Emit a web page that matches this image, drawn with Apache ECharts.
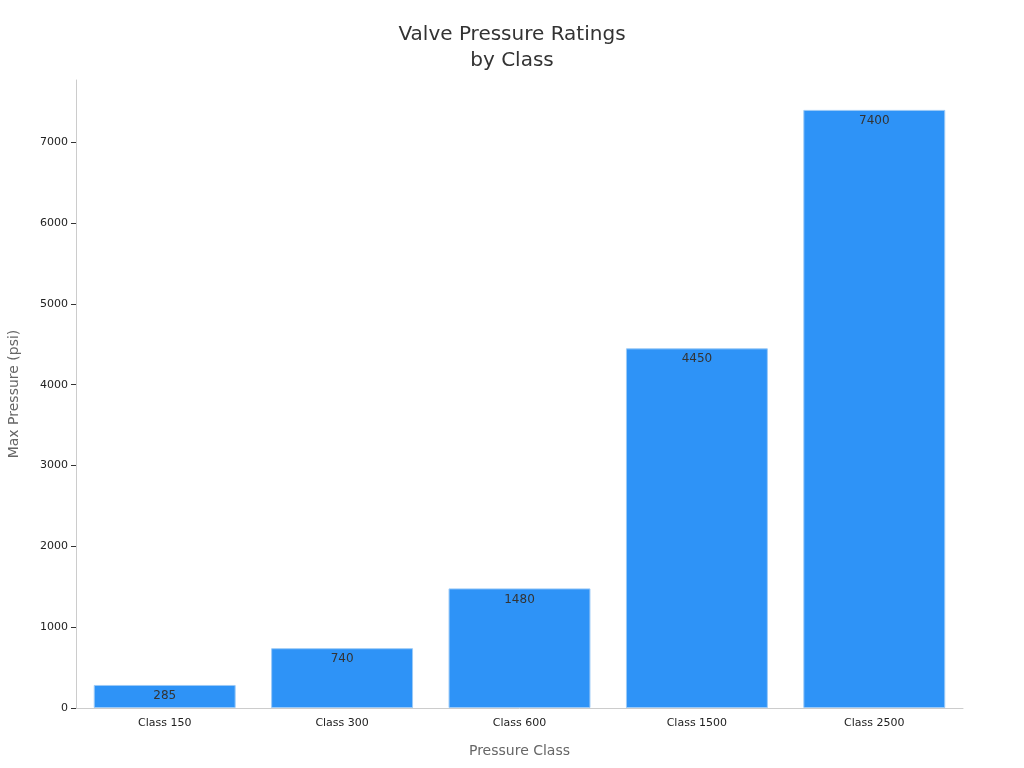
<!DOCTYPE html>
<html>
<head>
<meta charset="utf-8">
<script src="https://cdn.jsdelivr.net/npm/echarts@6/dist/echarts.min.js"></script>
<style>html,body{margin:0;padding:0;background:#fff}#chart{width:1024px;height:768px}</style>
</head>
<body>
<div id="chart"></div>
<script>
const categories = ['Class 150', 'Class 300', 'Class 600', 'Class 1500', 'Class 2500']
const pressures = [285, 740, 1480, 4450, 7400]

const chart = echarts.init(document.getElementById('chart'))
chart.setOption({
  textStyle: { fontFamily: 'DejaVu Sans' },
  title: {
    text: 'Valve Pressure Ratings\nby Class',
    left: 'center',
    top: 17,
    textStyle: { fontSize: 20, fontWeight: 'normal', color: '#333', lineHeight: 26 }
  },
  grid: { left: 76, right: 61, top: 80, bottom: 60, outerBoundsMode: 'none' },
  xAxis: {
    type: 'category',
    data: categories,
    name: 'Pressure Class',
    nameLocation: 'middle',
    nameGap: 36,
    nameTextStyle: { fontSize: 14, color: '#666' },
    axisLine: { lineStyle: { color: '#ccc' } },
    axisTick: { show: false },
    axisLabel: { fontSize: 11, color: '#222', margin: 10 }
  },
  yAxis: {
    type: 'value',
    min: 0,
    max: 7770,
    interval: 1000,
    name: 'Max Pressure (psi)',
    nameLocation: 'middle',
    nameGap: 55,
    nameTextStyle: { fontSize: 14, color: '#666' },
    axisLine: { show: true, lineStyle: { color: '#ccc' } },
    axisTick: { show: true, lineStyle: { color: '#333' } },
    axisLabel: { fontSize: 11, color: '#222', showMaxLabel: false, formatter: v => String(v) },
    splitLine: { show: false }
  },
  series: [{
    type: 'bar',
    data: pressures,
    barWidth: '80%',
    itemStyle: { color: '#2E93F7', borderColor: '#9ccaf7', borderWidth: 1 },
    label: { show: true, position: 'insideTop', color: '#333', fontSize: 12 }
  }]
})
</script>
</body>
</html>
